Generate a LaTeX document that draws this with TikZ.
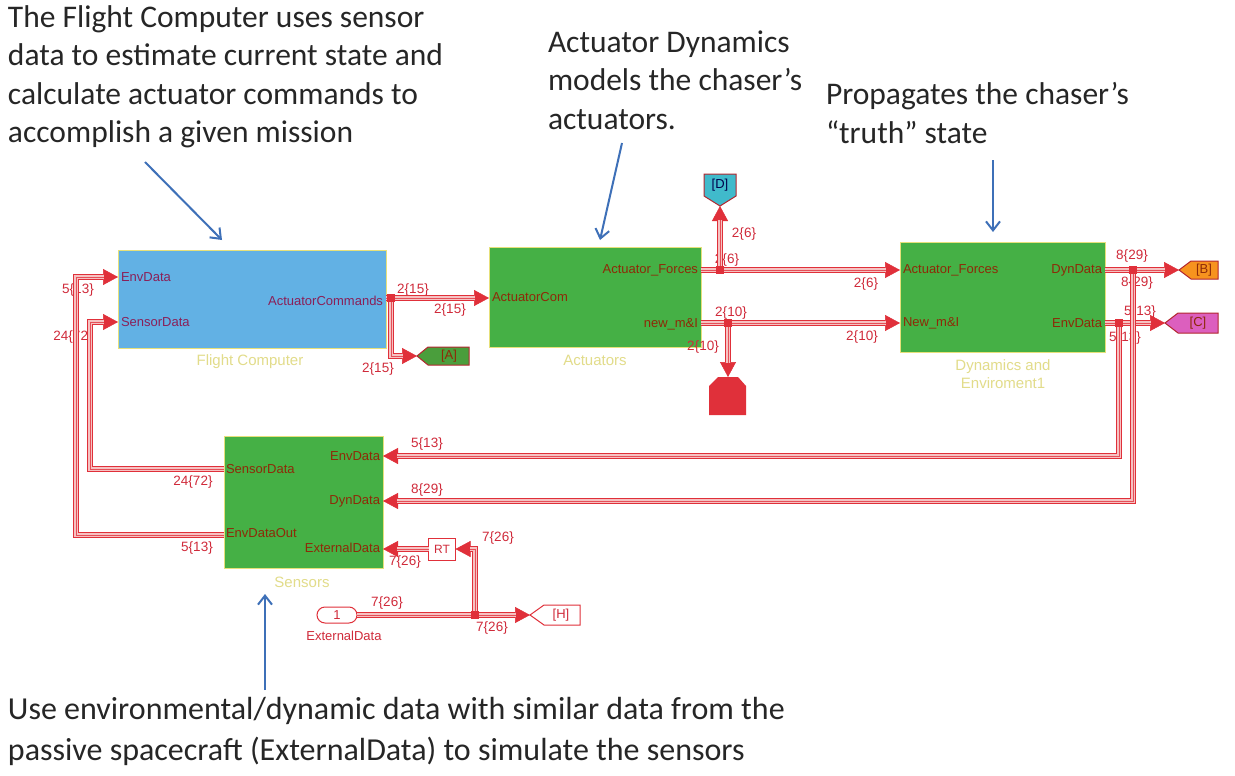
\documentclass[tikz,border=0pt]{standalone}
\usepackage{fontspec}
\setmainfont{Carlito}
\newfontfamily\simfont{Liberation Sans}
\usetikzlibrary{arrows.meta,calc}
\definecolor{busred}{HTML}{E0303A}
\definecolor{buspink}{HTML}{F6C2C2}
\definecolor{lblred}{HTML}{D02A3A}
\definecolor{fcblue}{HTML}{62B1E4}
\definecolor{blkgreen}{HTML}{45B045}
\definecolor{edgeyel}{HTML}{E6E07A}
\definecolor{captyel}{HTML}{E2DC8A}
\definecolor{portpur}{HTML}{8A2058}
\definecolor{portbrn}{HTML}{8E2A08}
\definecolor{annblue}{HTML}{3E70B8}
\definecolor{tagorange}{HTML}{F7931E}
\definecolor{tagmag}{HTML}{DC5FBE}
\definecolor{tagcyan}{HTML}{40BACB}
\definecolor{taggreen}{HTML}{4A9E3C}
\begin{document}
\begin{tikzpicture}[x=1pt,y=-1pt,
  every node/.style={inner sep=0pt, outer sep=0pt},
  ann/.style={font=\fontsize{31.5}{38}\selectfont, text=black!85, anchor=base west},
  annb/.style={font=\fontsize{32}{40}\selectfont, text=black!85, anchor=base west},
  annarrow/.style={draw=annblue, line width=2pt, -{Straight Barb[length=9pt,width=14pt,line width=2pt]}},
  blk/.style={draw=edgeyel, line width=1pt, anchor=north west},
  caption/.style={font=\simfont\fontsize{15}{18}\selectfont, text=captyel},
  portL/.style={font=\simfont\fontsize{13}{15}\selectfont, anchor=west},
  portR/.style={font=\simfont\fontsize{13}{15}\selectfont, anchor=east},
  sig/.style={font=\simfont\fontsize{13.5}{15}\selectfont, text=lblred},
  busa/.style={draw=busred, line width=6.4pt, -{Triangle[length=15pt,width=16pt,line width=0.5pt]},
    postaction={draw=buspink, line width=4pt, -, shorten >=14pt},
    postaction={draw=busred!85, line width=0.8pt, -, shorten >=14pt}},
  dot/.style={fill=busred, minimum size=8pt, inner sep=0pt},
  tagbox/.style={draw=busred!80!black, line width=1pt},
  tagtxt/.style={font=\simfont\fontsize{13}{15}\selectfont},
]
\fill[white] (0,0) rectangle (1235,776);
\useasboundingbox (0,0) rectangle (1235,776);

% ---------- annotations ----------
\node[ann] (n1a) at (8,28) {The Flight Computer uses sensor};
\node[ann] (n1b) at (8,66) {data to estimate current state and};
\node[ann] (n1c) at (8,104) {calculate actuator commands to};
\node[ann] (n1d) at (8,142) {accomplish a given mission};
\node[ann] (n2a) at (548,53) {Actuator Dynamics};
\node[ann] (n2b) at (548,91) {models the chaser’s};
\node[ann] (n2c) at (548,129) {actuators.};
\node[ann] (n3a) at (826,105) {Propagates the chaser’s};
\node[ann] (n3b) at (826,143) {“truth” state};
\node[annb] (n4a) at (8,719) {Use environmental/dynamic data with similar data from the};
\node[annb] (n4b) at (8,760) {passive spacecraft (ExternalData) to simulate the sensors};

\coordinate (a1s) at (145,162); \coordinate (a1e) at (222,240);
\coordinate (a2s) at (622,143); \coordinate (a2e) at (600,240);
\coordinate (a3s) at (993,160); \coordinate (a3e) at (993,232);
\coordinate (a4s) at (265,690); \coordinate (a4e) at (265,594);
\draw[annarrow] (a1s) -- (a1e);
\draw[annarrow] (a2s) -- (a2e);
\draw[annarrow] (a3s) -- (a3e);
\draw[annarrow] (a4s) -- (a4e);

% ---------- blocks ----------
\node[blk, fill=fcblue, minimum width=268pt, minimum height=98pt] (fc) at (118,250) {};
\node[blk, fill=blkgreen, minimum width=212pt, minimum height=100pt] (act) at (489,247) {};
\node[blk, fill=blkgreen, minimum width=205pt, minimum height=110pt] (dyn) at (900,242) {};
\node[blk, fill=blkgreen, minimum width=159pt, minimum height=132pt] (sen) at (224,436) {};

\node[caption] (fccap) at (250,362) {Flight Computer};
\node[caption] (accap) at (595,360) {Actuators};
\node[caption, align=center] (dycap) at (1003,374) {Dynamics and\\Enviroment1};
\node[caption] (secap) at (302,582) {Sensors};

% port labels
\node[portL, text=portpur] (pf1) at (121,277) {EnvData};
\node[portL, text=portpur] (pf2) at (121,322) {SensorData};
\node[portR, text=portpur] (pf3) at (383,301) {ActuatorCommands};
\node[portL, text=portbrn] (pa1) at (492,297) {ActuatorCom};
\node[portR, text=portbrn] (pa2) at (698,270) {Actuator\_Forces};
\node[portR, text=portbrn] (pa3) at (698,324) {new\_m\&I};
\node[portL, text=portbrn] (pd1) at (903,270) {Actuator\_Forces};
\node[portL, text=portbrn] (pd2) at (903,323) {New\_m\&I};
\node[portR, text=portbrn] (pd3) at (1102,270) {DynData};
\node[portR, text=portbrn] (pd4) at (1102,323) {EnvData};
\node[portL, text=portbrn] (ps1) at (226,469) {SensorData};
\node[portL, text=portbrn] (ps2) at (226,533) {EnvDataOut};
\node[portR, text=portbrn] (ps3) at (380,456) {EnvData};
\node[portR, text=portbrn] (ps4) at (380,501) {DynData};
\node[portR, text=portbrn] (ps5) at (380,548) {ExternalData};

% ---------- signal labels ----------
\node[sig] (l1) at (413,290) {2\{15\}};
\node[sig] (l2) at (450,310) {2\{15\}};
\node[sig] (l3) at (378,369) {2\{15\}};
\node[sig] (l4) at (727,260) {2\{6\}};
\node[sig] (l5) at (744,234) {2\{6\}};
\node[sig] (l6) at (866,284) {2\{6\}};
\node[sig] (l7) at (731,313) {2\{10\}};
\node[sig] (l8) at (703,347) {2\{10\}};
\node[sig] (l9) at (862,337) {2\{10\}};
\node[sig] (l10) at (1132,256) {8\{29\}};
\node[sig] (l11) at (1137,283) {8\{29\}};
\node[sig] (l12) at (1140,312) {5\{13\}};
\node[sig] (l13) at (1125,338) {5\{13\}};
\node[sig] (l14) at (427,444) {5\{13\}};
\node[sig] (l15) at (427,490) {8\{29\}};
\node[sig] (l16) at (193,482) {24\{72\}};
\node[sig] (l17) at (197,548) {5\{13\}};
\node[sig] (l18) at (405,562) {7\{26\}};
\node[sig] (l19) at (498,538) {7\{26\}};
\node[sig] (l20) at (387,603) {7\{26\}};
\node[sig] (l21) at (492,628) {7\{26\}};
\node[sig] (l22) at (78,290) {5\{13\}};
\node[sig] (l23) at (73,337) {24\{72\}};

% ---------- ports ----------
\coordinate (fcEnv) at (118,277);
\coordinate (fcSen) at (118,322);
\coordinate (fcOut) at (386,298);
\coordinate (acIn) at (489,298);
\coordinate (acF) at (701,270);
\coordinate (acM) at (701,323);
\coordinate (dyF) at (900,270);
\coordinate (dyM) at (900,323);
\coordinate (dyD) at (1105,270);
\coordinate (dyE) at (1105,323);
\coordinate (seE) at (383,456);
\coordinate (seD) at (383,501);
\coordinate (seX) at (383,549);
\coordinate (seS) at (224,469);
\coordinate (seO) at (224,535);
\coordinate (kS) at (90,469);
\coordinate (kO) at (76,535);

% ---------- tags ----------
\coordinate (tagA) at (417,356);
\draw[tagbox, fill=taggreen] (tagA) -- ++(11,-9) -- ++(41,0) -- ++(0,18) -- ++(-41,0) -- cycle;
\node[tagtxt, text=portbrn] (tA) at (449,356) {[A]};
\coordinate (tagB) at (1179,270);
\draw[tagbox, fill=tagorange] (tagB) -- ++(12,-9) -- ++(27,0) -- ++(0,18) -- ++(-27,0) -- cycle;
\node[tagtxt, text=portbrn] (tB) at (1204,270) {[B]};
\coordinate (tagC) at (1165,323);
\draw[tagbox, fill=tagmag] (tagC) -- ++(13,-10) -- ++(40,0) -- ++(0,20) -- ++(-40,0) -- cycle;
\node[tagtxt, text=portbrn] (tC) at (1198,323) {[C]};
\coordinate (tagD) at (720,206);
\draw[tagbox, fill=tagcyan] (tagD) -- ++(-16,-10) -- ++(0,-22) -- ++(32,0) -- ++(0,22) -- cycle;
\node[tagtxt, text=black!70!blue] (tD) at (720,185) {[D]};
\coordinate (tagH) at (530,615);
\draw[tagbox, draw=busred, fill=white] (tagH) -- ++(14,-10) -- ++(36,0) -- ++(0,20) -- ++(-36,0) -- cycle;
\node[tagtxt, text=lblred] (tH) at (561,615) {[H]};
\coordinate (term) at (728,377);
\fill[busred] (term) -- ++(10,0) -- ++(8,9) -- ++(0,29) -- ++(-37,0) -- ++(0,-29) -- ++(9,-9) -- cycle;

\node[draw=busred, fill=white, line width=1pt, minimum width=27pt, minimum height=22pt,
      font=\simfont\fontsize{12}{14}\selectfont, text=lblred] (rt) at (442,549) {RT};
\node[draw=busred, fill=white, line width=1pt, rounded corners=8pt, minimum width=40pt, minimum height=16pt,
      font=\simfont\fontsize{13}{15}\selectfont, text=lblred] (in1) at (337,615) {1};
\node[font=\simfont\fontsize{13}{15}\selectfont, text=lblred] (in1cap) at (344,636) {ExternalData};

% ---------- dots (positions) ----------
\coordinate (b1) at (391,298);
\coordinate (b2) at (720,270);
\coordinate (b3) at (728,323);
\coordinate (b4) at (1133,270);
\coordinate (b5) at (1119,323);
\coordinate (b6) at (475,615);

% ---------- bus lines ----------
\draw[busa] (fcOut) -- (acIn);
\draw[busa] (b1) |- (tagA);
\draw[busa] (acF) -- (dyF);
\draw[busa] (b2) -- (tagD);
\draw[busa] (acM) -- (dyM);
\draw[busa] (b3) -- (term);
\draw[busa] (dyD) -- (tagB);
\draw[busa] (dyE) -- (tagC);
\draw[busa] (b5) |- (seE);
\draw[busa] (b4) |- (seD);
\draw[busa] (seS) -- (kS) |- (fcSen);
\draw[busa] (seO) -- (kO) |- (fcEnv);
\draw[busa] (in1.east) -- (tagH);
\draw[busa] (b6) |- (rt.east);
\draw[busa] (rt.west) -- (seX);

\node[dot] (d1) at (b1) {};
\node[dot] (d2) at (b2) {};
\node[dot] (d3) at (b3) {};
\node[dot] (d4) at (b4) {};
\node[dot] (d5) at (b5) {};
\node[dot] (d6) at (b6) {};
\end{tikzpicture}
\end{document}
